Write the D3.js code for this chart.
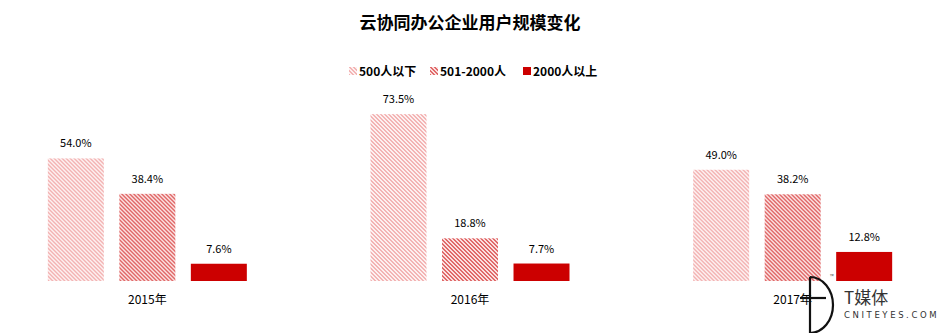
<!DOCTYPE html>
<html>
<head>
<meta charset="utf-8">
<script src="https://cdn.jsdelivr.net/npm/d3@7"></script>
<style>
  html, body { margin: 0; padding: 0; background: #fff; }
  svg { display: block; font-family: "Microsoft YaHei", "Noto Sans CJK SC", "Noto Sans", sans-serif; }
</style>
</head>
<body>
<svg id="chart" width="943" height="333"></svg>
<script>
// Enterprise cloud-collaboration users by company size, share of users per year
const years = ["2015年", "2016年", "2017年"];
const seriesNames = ["500人以下", "501-2000人", "2000人以上"];
const small = [54.0, 73.5, 49.0];
const medium = [38.4, 18.8, 38.2];
const large = [7.6, 7.7, 12.8];
const title = "云协同办公企业用户规模变化";

const seriesValues = [small, medium, large];
const fills = ["url(#hatchLight)", "url(#hatchMid)", "#cc0000"];

const width = 943, height = 333;
const svg = d3.select("#chart");

// diagonal hatch patterns (wide downward diagonal)
const defs = svg.append("defs");
function hatch(id, fg, bg) {
  const p = defs.append("pattern")
    .attr("id", id).attr("patternUnits", "userSpaceOnUse")
    .attr("width", 4).attr("height", 4);
  p.append("rect").attr("width", 4).attr("height", 4).attr("fill", bg);
  const cells = [[0,0],[1,0],[1,1],[2,1],[2,2],[3,2],[3,3],[0,3]];
  p.selectAll("rect.c").data(cells).join("rect").attr("class", "c")
    .attr("x", d => d[0]).attr("y", d => d[1])
    .attr("width", 1).attr("height", 1)
    .attr("fill", fg).attr("shape-rendering", "crispEdges");
}
hatch("hatchLight", "#f3b4b4", "#fdf0f0");
hatch("hatchMid", "#e06a6a", "#fbe0e0");

// scales
const baseline = 281;
const y = d3.scaleLinear().domain([0, 100]).range([baseline, baseline - 227]);
const x0 = d3.scaleBand().domain(years).range([-14, 954]).padding(0);
const x1 = d3.scaleBand().domain(seriesNames).range([-99.5, 99.5]).paddingInner(0.217).paddingOuter(0);

// title
svg.append("text")
  .attr("x", 470).attr("y", 29)
  .attr("text-anchor", "middle")
  .attr("font-size", 17).attr("font-weight", "bold").attr("fill", "#000")
  .text(title);

// legend
const legendPos = [349, 430, 523];
const legend = svg.append("g");
seriesNames.forEach((name, i) => {
  const g = legend.append("g").attr("transform", `translate(${legendPos[i]},71)`);
  g.append("rect").attr("x", 0).attr("y", -4).attr("width", 8).attr("height", 8).attr("fill", fills[i]);
  g.append("text").attr("x", 10).attr("y", 4.5)
    .attr("font-size", 12).attr("font-weight", "bold").attr("fill", "#000")
    .text(name);
});

// bars and value labels
const groups = svg.append("g").selectAll("g")
  .data(years)
  .join("g")
  .attr("transform", d => `translate(${x0(d) + x0.bandwidth() / 2},0)`);

groups.each(function (year, yi) {
  const g = d3.select(this);
  seriesNames.forEach((name, si) => {
    const v = seriesValues[si][yi];
    g.append("rect")
      .attr("x", x1(name))
      .attr("y", y(v))
      .attr("width", x1.bandwidth())
      .attr("height", baseline - y(v))
      .attr("fill", fills[si]);
    g.append("text")
      .attr("x", x1(name) + x1.bandwidth() / 2)
      .attr("y", y(v) - 11)
      .attr("text-anchor", "middle")
      .attr("font-size", 11).attr("fill", "#000")
      .text(d3.format(".1f")(v) + "%");
  });
});

// category axis labels
svg.append("g").selectAll("text")
  .data(years)
  .join("text")
  .attr("x", d => x0(d) + x0.bandwidth() / 2)
  .attr("y", 304)
  .attr("text-anchor", "middle")
  .attr("font-size", 12).attr("fill", "#000")
  .text(d => d);

// publisher mark
const mark = svg.append("g");
mark.append("path")
  .attr("d", "M810,277 A23,28 0 0 1 810,333")
  .attr("fill", "none").attr("stroke", "#111").attr("stroke-width", 2.2);
mark.append("line").attr("x1", 810).attr("y1", 277).attr("x2", 810).attr("y2", 333)
  .attr("stroke", "#111").attr("stroke-width", 2.2);
mark.append("line").attr("x1", 800).attr("y1", 298).attr("x2", 826).attr("y2", 298)
  .attr("stroke", "#111").attr("stroke-width", 2.2);
mark.append("text").attr("x", 830).attr("y", 278).attr("font-size", 5).attr("fill", "#555").text("™");
mark.append("text").attr("x", 844).attr("y", 304)
  .attr("font-size", 17).attr("fill", "#333").text("T媒体");
mark.append("text").attr("x", 844).attr("y", 318)
  .attr("font-size", 8.5).attr("letter-spacing", 2.6).attr("fill", "#333")
  .attr("font-family", "DejaVu Sans, sans-serif")
  .text("CNITEYES.COM");
</script>
</body>
</html>
